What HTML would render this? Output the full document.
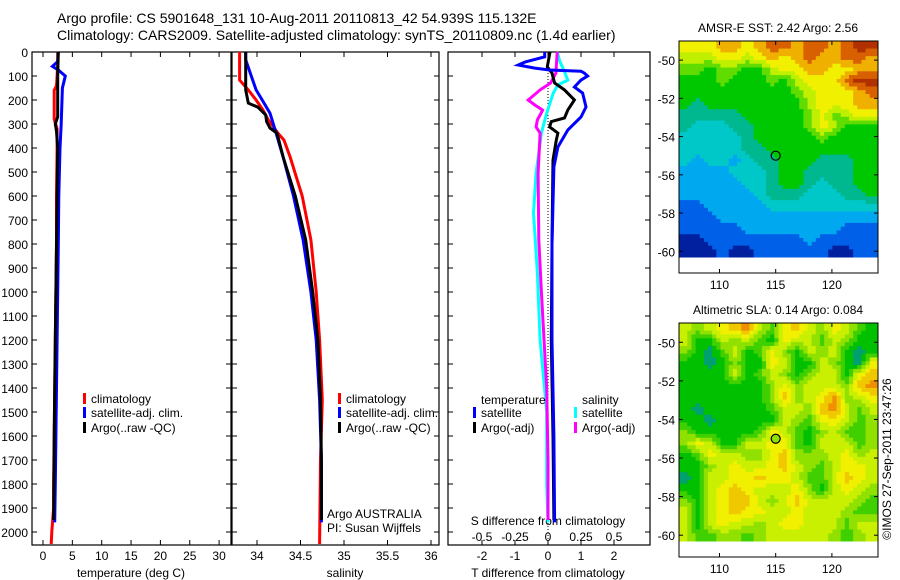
<!DOCTYPE html>
<html><head><meta charset="utf-8"><style>
body{margin:0;background:#fff;}
svg{display:block;font-family:"Liberation Sans",sans-serif;}
</style></head><body>
<svg id="fig" width="900" height="580" viewBox="0 0 900 580">
<text x="57" y="23" font-size="14">Argo profile: CS 5901648_131 10-Aug-2011 20110813_42 54.939S 115.132E</text>
<text x="57" y="40" font-size="14">Climatology: CARS2009. Satellite-adjusted climatology: synTS_20110809.nc (1.4d earlier)</text>
<g id="g"></g>
</svg>
<script>
// ---- data ----
const tDepthClim=[0,50,100,140,160,280,320,400,600,800,1000,1200,1400,1600,1800,1900,2000,2050];
const tClim=[2.5,2.5,2.4,2.3,1.9,1.9,2.4,2.4,2.3,2.3,2.2,2.1,2.0,1.9,1.8,1.8,1.5,1.4];
const tDepthSat=[0,40,60,75,100,150,300,400,600,800,1000,1200,1400,1600,1800,1960];
const tSat=[2.6,2.5,1.6,2.6,3.8,3.3,3.1,2.9,2.7,2.6,2.5,2.4,2.3,2.2,2.1,2.0];
const tDepthArgo=[0,100,270,300,330,400,800,1200,1600,1950];
const tArgo=[2.6,2.5,2.5,2.1,2.3,2.5,2.3,2.1,1.9,1.8];
const sDepthClim=[0,117,158,200,242,283,338,367,437,600,783,1000,1200,1450,1700,2050];
const sClim=[33.80,33.80,33.90,33.99,34.07,34.13,34.24,34.31,34.38,34.52,34.62,34.68,34.72,34.75,34.73,34.72];
const sDepthSat=[0,33,117,158,200,255,338,437,600,783,1000,1200,1450,1700,1960];
const sSat=[33.87,33.87,33.95,33.99,34.06,34.15,34.22,34.30,34.42,34.53,34.62,34.68,34.72,34.74,34.74];
const sDepthArgo=[0,158,213,230,262,290,317,338,437,600,783,1000,1200,1450,1700,1950];
const sArgo=[33.87,33.87,33.90,34.01,34.10,34.11,34.15,34.23,34.30,34.44,34.56,34.64,34.70,34.73,34.74,34.74];
const dDepthTSat=[0,20,42,54,67,75,80,88,100,117,146,171,229,271,325,396,479,800,1200,1600,1960];
const dTSat=[-0.1,-0.1,-0.7,-0.9,-0.4,0.05,1.0,1.1,1.2,1.0,0.8,1.05,1.15,1.0,0.6,0.3,0.18,0.12,0.12,0.18,0.2];
const dDepthTArgo=[0,62,88,129,158,200,242,275,290,312,338,367,450,800,1200,1600,1950];
const dTArgo=[0.06,-0.02,0.12,0.2,0.5,0.8,0.6,0.5,0.1,0.05,0.3,0.25,0.15,0.12,0.1,0.15,0.18];
const dDepthSSat=[0,40,75,117,137,171,254,338,504,671,921,1200,1500,1800,1960];
const dSSat=[0.07,0.09,0.12,0.15,0.075,0.04,-0.01,-0.05,-0.09,-0.11,-0.08,-0.06,-0.01,-0.01,0.0];
const dDepthSArgo=[0,88,129,158,200,221,242,283,312,338,504,783,1000,1400,1700,1950];
const dSArgo=[0.07,0.06,0.02,-0.06,-0.15,-0.1,-0.04,-0.08,-0.09,-0.06,-0.075,-0.07,-0.05,-0.01,0.0,0.0];
const depthTicks=[0,100,200,300,400,500,600,700,800,900,1000,1100,1200,1300,1400,1500,1600,1700,1800,1900,2000];
const tempTicks=[0,5,10,15,20,25,30];
const salTicks=[34,34.5,35,35.5,36];
const salTickLabels=["34","34.5","35","35.5","36"];
const dTTicks=[-2,-1,0,1,2];
const dSTicks=[-0.5,-0.25,0,0.25,0.5];
const latTicks=[-50,-52,-54,-56,-58,-60];
const lonTicks=[110,115,120];
const sstGrid=[
"8889989AA9AA9ABB","7778878989A99AA9","6656655788998899","5556555657888ABB","555555555678889A","5455555555788899","4444455555686788","4333445555687555","3333345555565555","3333344555555555","3233234455544455","2222333455444455","2222233455434455","2222223444333445","1122222333333333","1112222222222222","1111122222222111","0011111111211111","0001001111110011"];
const slaGrid=[
"4345674256435421","4114342154424311","3102412531434101","1101311541143105","1111412431344156","1111111353444367","1111111363457345","1011111244367424","1101111143255423","3111112542134223","3541144552144423","1254433563334534","1134544564324554","0144556554224654","1145654445314543","3145664346444432","4145655445444322","4145443455444244","4223323444443234"];
const sstCols=["#0020a0","#0060e8","#00a8f0","#00c8c8","#00b890","#00c800","#60dc00","#c0f000","#f0f000","#f0b000","#d86000","#b03000"];
const slaCols=["#00a070","#00c000","#40d000","#90e000","#c8f000","#f0f000","#f0c800","#f09000"];
</script>
<script>
const NS="http://www.w3.org/2000/svg";
const G=document.getElementById('g');
function mk(tag,at,parent){const e=document.createElementNS(NS,tag);for(const k in at)e.setAttribute(k,at[k]);(parent||G).appendChild(e);return e;}
function txt(x,y,s,size,anchor,parent){const t=mk('text',{x:x,y:y,'font-size':size||12,'text-anchor':anchor||'start'},parent);t.textContent=s;return t;}
const Y0=52,Yk=0.24,YB=545;
const yOf=d=>Y0+d*Yk;
const xT=v=>43+v*5.87;
const xS=v=>257+(v-34)*87;
const xDT=v=>548+v*33;
const xDS=v=>548+v*132;
function frame(x0,x1,name){
  const r=mk('rect',{x:x0,y:Y0,width:x1-x0,height:YB-Y0,fill:'none',stroke:'#000','stroke-width':1.2});
  
  
  depthTicks.forEach(d=>{const y=yOf(d);mk('line',{x1:x0,x2:x0+5,y1:y,y2:y,stroke:'#000'});mk('line',{x1:x1-5,x2:x1,y1:y,y2:y,stroke:'#000'});});
}
function line(ds,vs,fx,col,name,w){
  const p=ds.map((d,i)=>fx(vs[i]).toFixed(1)+','+yOf(d).toFixed(1)).join(' ');
  const l=mk('polyline',{points:p,fill:'none',stroke:col,'stroke-width':w||3,'stroke-linejoin':'miter'});
  
  
}
function xticks(vals,fx,labels,ly){vals.forEach((v,i)=>{const x=fx(v);mk('line',{x1:x,x2:x,y1:Y0,y2:Y0+5,stroke:'#000'});mk('line',{x1:x,x2:x,y1:YB-5,y2:YB,stroke:'#000'});const t=txt(x,ly,labels?labels[i]:String(v),12,'middle');});}
function legend(x,y,col,label){const r=mk('rect',{x:x,y:y-10,width:3,height:11,fill:col});const t=txt(x+8,y,label,12);}
depthTicks.forEach(d=>{const t=txt(28,yOf(d)+5,String(d),12,'end');});
// Temperature panel
frame(32,231,'temperature-panel');
xticks(tempTicks,xT,null,560);
let t=txt(131,577,'temperature (deg C)',12,'middle');
line(tDepthClim,tClim,xT,'#f00','temp-climatology-line');
line(tDepthSat,tSat,xT,'#00f','temp-satellite-line');
line(tDepthArgo,tArgo,xT,'#000','temp-argo-line');
legend(83,403,'#f00','climatology');legend(83,417,'#00f','satellite-adj. clim.');legend(83,432,'#000','Argo(..raw -QC)');
// Salinity panel
frame(232,439,'salinity-panel');
xticks(salTicks,xS,salTickLabels,560);
t=txt(345,577,'salinity',12,'middle');
line(sDepthClim,sClim,xS,'#f00','sal-climatology-line');
line(sDepthSat,sSat,xS,'#00f','sal-satellite-line');
line(sDepthArgo,sArgo,xS,'#000','sal-argo-line');
legend(338,403,'#f00','climatology');legend(338,417,'#00f','satellite-adj. clim.');legend(338,432,'#000','Argo(..raw -QC)');
t=txt(327,518,'Argo AUSTRALIA',12);
t=txt(327,532,'PI: Susan Wijffels',12);
// Difference panel
frame(448,650,'difference-panel');
dTTicks.forEach(v=>{const x=xDT(v);mk('line',{x1:x,x2:x,y1:Y0,y2:Y0+5,stroke:'#000'});mk('line',{x1:x,x2:x,y1:YB-5,y2:YB,stroke:'#000'});const tt=txt(x,560,String(v),12,'middle');});
dSTicks.forEach(v=>{const tt=txt(xDS(v),541,String(v),12,'middle');});
t=txt(548,525,'S difference from climatology',12,'middle');
t=txt(548,577,'T difference from climatology',12,'middle');
mk('line',{x1:548,x2:548,y1:Y0,y2:YB,stroke:'#000','stroke-dasharray':'1,2'});
line(dDepthSSat,dSSat,xDS,'#0ff','s-diff-satellite-line');
line(dDepthSArgo,dSArgo,xDS,'#f0f','s-diff-argo-line');
line(dDepthTArgo,dTArgo,xDT,'#000','t-diff-argo-line');
line(dDepthTSat,dTSat,xDT,'#00f','t-diff-satellite-line');
t=txt(481,404,'temperature',12);
t=txt(582,404,'salinity',12);
legend(473,417,'#00f','satellite');legend(473,432,'#000','Argo(-adj)');
legend(574,417,'#0ff','satellite');legend(574,432,'#f0f','Argo(-adj)');
// Maps
function val(grid,r,c){r=Math.max(0,Math.min(grid.length-1,r));c=Math.max(0,Math.min(15,c));return parseInt(grid[r][c]||'0',16);}
function map(top,bottomFrame,imgBottom,grid,cols,title,name,circFill){
  const x0=679,x1=878;
  const lat0=-49.0,lat1=-60.3,lon0=106.4,lon1=124.1;
  const yL=la=>top+(lat0-la)/(lat0-lat1)*(imgBottom-top);
  const xL=lo=>x0+(lo-lon0)/(lon1-lon0)*(x1-x0);
  const rows=grid.length,ncol=16,S=3;
  const ch=(imgBottom-top)/(rows*S),cw=(x1-x0)/(ncol*S);
  const g=mk('g',{});
  for(let r=0;r<rows*S;r++)for(let c=0;c<ncol*S;c++){
    const fr=(r+0.5)/S-0.5,fc=(c+0.5)/S-0.5;
    const r0=Math.floor(fr),c0=Math.floor(fc),ar=fr-r0,ac=fc-c0;
    const v=(1-ar)*((1-ac)*val(grid,r0,c0)+ac*val(grid,r0,c0+1))+ar*((1-ac)*val(grid,r0+1,c0)+ac*val(grid,r0+1,c0+1));
    const k=Math.max(0,Math.min(cols.length-1,Math.round(v)));
    mk('rect',{x:(x0+c*cw).toFixed(2),y:(top+r*ch).toFixed(2),width:(cw+0.5).toFixed(2),height:(ch+0.5).toFixed(2),fill:cols[k]},g);
  }
  mk('rect',{x:x0,y:top,width:x1-x0,height:bottomFrame-top,fill:'none',stroke:'#000'});
  latTicks.forEach(la=>{const y=yL(la);mk('line',{x1:x0,x2:x0+4,y1:y,y2:y,stroke:'#000'});mk('line',{x1:x1-4,x2:x1,y1:y,y2:y,stroke:'#000'});const tt=txt(675,y+5,String(la),12,'end');});
  lonTicks.forEach(lo=>{const x=xL(lo);mk('line',{x1:x,x2:x,y1:top,y2:top+4,stroke:'#000'});mk('line',{x1:x,x2:x,y1:bottomFrame-4,y2:bottomFrame,stroke:'#000'});const tt=txt(x,bottomFrame+16,String(lo),12,'middle');});
  const c=mk('circle',{cx:xL(115),cy:yL(-55),r:4.5,fill:circFill,stroke:'#000','stroke-width':1.2});
  
  const tt=txt(778,top-9,title,12,'middle');
}
map(41,273,257,sstGrid,sstCols,'AMSR-E SST: 2.42 Argo: 2.56','sst-map','none');
map(323,557,541,slaGrid,slaCols,'Altimetric SLA: 0.14 Argo: 0.084','sla-map','#90e000');
t=txt(0,0,'©IMOS 27-Sep-2011 23:47:26',12,'middle');
t.setAttribute('transform','translate(891,459) rotate(-90)');


</script>
</body></html>
